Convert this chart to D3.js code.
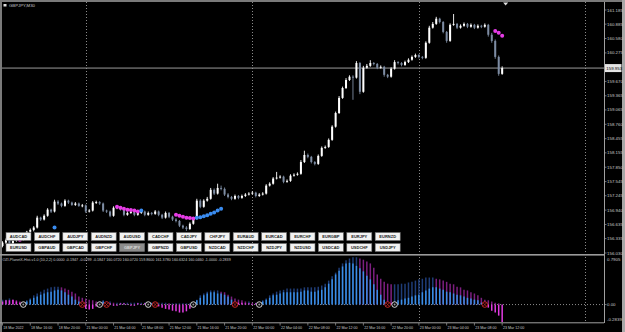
<!DOCTYPE html>
<html>
<head>
<meta charset="utf-8">
<script src="https://cdn.jsdelivr.net/npm/d3@7"></script>
<style>
html, body { margin: 0; padding: 0; background: #000; }
svg { display: block; }
text { font-family: "Liberation Sans", Arial, sans-serif; }
</style>
</head>
<body>
<svg id="chart" width="625" height="332"></svg>
<script>
// --- data ---
const symbolTitle = "GBPJPY,M30";

// M30 bars, [open, high, low, close], 18 Mar 12:00 .. 23 Mar 12:00
const candles = [
  [156.18,156.28,156.15,156.25],[156.25,156.34,156.22,156.31],[156.31,156.33,156.20,156.23],[156.23,156.31,156.21,156.29],
  [156.29,156.38,156.27,156.35],[156.35,156.37,156.29,156.31],[156.31,156.43,156.29,156.40],[156.40,156.50,156.38,156.48],
  [156.48,156.55,156.46,156.52],[156.52,156.60,156.49,156.57],[156.57,156.82,156.55,156.78],[156.78,156.80,156.71,156.74],
  [156.74,156.85,156.72,156.82],[156.82,156.98,156.80,156.95],[156.95,156.97,156.88,156.91],[156.91,157.16,156.89,157.12],
  [157.12,157.15,157.05,157.08],[157.08,157.10,157.00,157.03],[157.03,157.17,157.01,157.14],[157.14,157.16,157.07,157.10],
  [157.10,157.12,157.03,157.05],[157.05,157.11,157.03,157.08],[157.08,157.10,157.01,157.03],[157.03,157.07,157.00,157.04],
  [157.04,157.06,156.88,156.91],[156.91,156.96,156.89,156.93],[156.93,157.13,156.91,157.10],[157.10,157.14,157.07,157.11],
  [157.11,157.13,157.05,157.08],[157.08,157.10,156.90,156.93],[156.93,156.95,156.88,156.91],[156.91,156.93,156.79,156.82],
  [156.82,157.02,156.80,156.99],[156.99,157.03,156.96,157.00],[157.00,157.02,156.93,156.95],[156.95,156.97,156.81,156.84],
  [156.84,156.91,156.82,156.88],[156.88,156.94,156.86,156.91],[156.91,156.93,156.81,156.84],[156.84,156.91,156.82,156.88],
  [156.88,156.94,156.86,156.91],[156.91,156.93,156.81,156.84],[156.84,156.91,156.82,156.88],[156.88,156.90,156.83,156.86],
  [156.86,156.94,156.84,156.91],[156.91,156.93,156.81,156.84],[156.84,156.86,156.75,156.78],[156.78,156.91,156.76,156.88],
  [156.88,156.90,156.77,156.80],[156.80,156.82,156.71,156.74],[156.74,156.77,156.68,156.71],[156.71,156.73,156.58,156.61],
  [156.61,156.63,156.54,156.57],[156.57,156.60,156.50,156.54],[156.54,156.68,156.52,156.65],[156.65,156.79,156.63,156.76],
  [156.76,157.18,156.74,157.14],[157.14,157.17,156.98,157.01],[157.01,157.17,156.99,157.14],[157.14,157.22,157.12,157.18],
  [157.18,157.41,157.16,157.37],[157.37,157.40,157.26,157.29],[157.29,157.50,157.27,157.41],[157.41,157.46,157.36,157.39],
  [157.39,157.42,157.24,157.27],[157.27,157.30,157.19,157.22],[157.22,157.24,157.15,157.18],[157.18,157.27,157.16,157.24],
  [157.24,157.26,157.17,157.20],[157.20,157.27,157.18,157.24],[157.24,157.30,157.22,157.27],[157.27,157.32,157.25,157.29],
  [157.29,157.34,157.27,157.31],[157.31,157.33,157.21,157.24],[157.24,157.30,157.22,157.27],[157.27,157.32,157.25,157.29],
  [157.29,157.49,157.27,157.46],[157.46,157.53,157.44,157.50],[157.50,157.64,157.48,157.61],[157.61,157.75,157.59,157.63],
  [157.63,157.68,157.61,157.65],[157.65,157.67,157.51,157.54],[157.54,157.59,157.52,157.56],[157.56,157.70,157.54,157.67],
  [157.67,157.72,157.65,157.69],[157.69,157.74,157.67,157.71],[157.71,158.00,157.69,157.96],[157.96,158.20,157.94,158.11],
  [158.11,158.14,158.04,158.07],[158.07,158.09,157.93,157.96],[157.96,157.98,157.89,157.92],[157.92,158.12,157.90,158.09],
  [158.09,158.29,158.07,158.26],[158.26,158.31,158.24,158.28],[158.28,158.46,158.26,158.43],[158.43,158.74,158.41,158.71],
  [158.71,159.03,158.69,159.00],[159.00,159.36,158.98,159.32],[159.32,159.56,159.30,159.53],[159.53,159.74,159.51,159.70],
  [159.70,159.80,159.68,159.77],[159.77,159.80,159.28,159.75],[159.75,160.10,159.73,160.06],[160.06,160.08,159.40,159.45],
  [159.45,160.00,159.43,159.96],[159.96,160.04,159.94,160.00],[160.00,160.12,159.98,160.06],[160.06,160.08,160.01,160.04],
  [160.04,160.06,159.93,159.96],[159.96,160.01,159.94,159.98],[159.98,160.00,159.77,159.81],[159.81,159.83,159.74,159.77],
  [159.77,159.97,159.75,159.94],[159.94,160.12,159.92,160.08],[160.08,160.10,160.03,160.06],[160.06,160.08,159.99,160.02],
  [160.02,160.11,160.00,160.08],[160.08,160.16,160.06,160.13],[160.13,160.22,160.11,160.19],[160.19,160.26,160.17,160.23],
  [160.23,160.25,160.16,160.19],[160.19,160.21,160.14,160.17],[160.17,160.52,160.15,160.49],[160.49,160.85,160.47,160.81],
  [160.81,160.93,160.79,160.89],[160.89,161.04,160.87,161.00],[161.00,161.02,160.90,160.93],[160.93,160.95,160.69,160.72],
  [160.72,160.74,160.49,160.53],[160.53,160.90,160.51,160.87],[160.87,161.10,160.85,160.89],[160.89,160.91,160.78,160.81],
  [160.81,160.88,160.79,160.85],[160.85,160.92,160.83,160.89],[160.89,160.91,160.80,160.83],[160.83,160.90,160.81,160.87],
  [160.87,160.89,160.78,160.81],[160.81,160.88,160.79,160.85],[160.85,160.87,160.80,160.83],[160.83,160.90,160.81,160.87],
  [160.87,160.89,160.62,160.66],[160.66,160.70,160.49,160.53],[160.53,160.56,160.15,160.19],[160.19,160.22,159.79,159.83],
  [159.83,159.99,159.81,159.953]
];

const timeLabels = [
  "18 Mar 2022","18 Mar 16:00","18 Mar 20:00","21 Mar 00:00","21 Mar 04:00","21 Mar 08:00","21 Mar 12:00",
  "21 Mar 16:00","21 Mar 20:00","22 Mar 00:00","22 Mar 04:00","22 Mar 08:00","22 Mar 12:00","22 Mar 16:00",
  "22 Mar 20:00","23 Mar 00:00","23 Mar 04:00","23 Mar 08:00","23 Mar 12:00"
];
const barsPerLabel = 8;
const dayStartBars = [24, 72, 120, 168];

const priceTicks = [161.185,160.885,160.580,160.275,159.670,159.365,159.065,158.760,158.455,
                    158.155,157.850,157.545,157.245,156.940,156.635,156.335,156.030];

// trend dots on the price chart, [bar, price]
const trendDotsDown = [[5,156.31],[33,157.01],[34,156.99],[35,156.97],[36,156.95],[37,156.94],[38,156.93],[39,156.91],
  [50,156.84],[51,156.82],[52,156.80],[53,156.78],[54,156.77],[55,156.76],[142,160.74],[143,160.70],[144,160.64]];
const trendDotsUp = [[15,156.57],[40,156.93],[56,156.78],[57,156.79],[58,156.81],[59,156.83],[60,156.86],
  [61,156.89],[62,156.93],[63,156.97]];

const pairsRow1 = ["AUDCAD","AUDCHF","AUDJPY","AUDNZD","AUDUSD","CADCHF","CADJPY","CHFJPY","EURAUD","EURCAD","EURCHF","EURGBP","EURJPY","EURNZD"];
const pairsRow2 = ["EURUSD","GBPAUD","GBPCAD","GBPCHF","GBPJPY","GBPNZD","GBPUSD","NZDCAD","NZDCHF","NZDJPY","NZDUSD","USDCAD","USDCHF","USDJPY"];
const activePair = "GBPJPY";

// oscillator sub-window
const oscHeader = "OZI-PlanetX-Hist-v1.0 (10,2,2) 0.0000 -0.1947 -0.0299 -0.1847 160.0720 160.0720 159.8600 161.3780 160.6324 160.0460 -1.0000 -0.2839";
const oscMax = 0.7905, oscMin = -0.2839;
const oscFast = [
  0.05,0.07,0.07,0.08,0.05,0.03,
  0.02,0.05,0.08,0.11,0.13,0.16,0.18,0.20,0.21,0.23,0.24,0.23,0.20,0.16,0.13,0.08,0.05,
  -0.03,-0.07,-0.08,-0.07,-0.03,
  0.03,0.05,
  0.02,0.02,-0.02,-0.02,0.02,0.02,0.01,-0.02,-0.02,0.02,0.01,0.02,
  0.02,0.02,
  -0.02,-0.03,-0.05,-0.07,-0.08,-0.10,-0.11,-0.13,-0.13,-0.11,-0.07,
  0.02,0.07,0.11,0.15,0.18,0.20,0.20,0.18,0.18,0.16,0.13,0.08,
  0.02,0.03,0.03,0.02,0.02,0.01,0.02,
  0.02,0.05,0.08,0.11,0.15,0.16,0.18,0.20,0.20,0.20,0.20,0.20,0.21,0.23,0.23,0.21,0.21,0.23,0.24,0.28,
  0.34,0.41,0.49,0.55,0.62,0.67,0.68,0.67,0.63,0.59,0.54,0.47,0.41,0.33,0.24,0.16,0.08,
  0.03,0.02,
  0.03,0.07,0.08,0.10,0.11,0.13,0.15,0.16,0.20,0.23,0.26,0.28,0.28,0.26,0.24,0.21,0.20,0.18,0.16,0.15,
  0.13,0.11,0.10,0.08,0.07,0.03,
  -0.02,-0.05,-0.10,-0.13,-0.18,-0.2839
];
const oscSlow = [
  0.08,0.08,0.10,0.08,0.07,0.05,
  0.03,0.07,0.10,0.15,0.18,0.21,0.24,0.26,0.28,0.29,0.29,0.28,0.26,0.24,0.21,0.18,0.13,
  0.11,0.10,0.08,0.07,0.05,
  0.05,0.07,
  0.05,0.05,0.03,0.03,0.03,0.03,0.03,0.03,0.03,0.03,0.03,0.03,
  0.03,0.03,
  0.03,0.03,0.03,0.03,0.02,0.02,0.02,0.02,0.02,0.02,0.02,
  0.03,0.08,0.15,0.18,0.21,0.23,0.23,0.23,0.21,0.20,0.16,0.13,
  0.10,0.08,0.07,0.05,0.05,0.03,0.03,
  0.03,0.07,0.10,0.15,0.18,0.21,0.23,0.24,0.26,0.26,0.26,0.26,0.26,0.28,0.28,0.28,0.28,0.29,0.31,0.34,
  0.39,0.46,0.52,0.60,0.67,0.72,0.75,0.77,0.77,0.75,0.73,0.70,0.67,0.60,0.49,0.42,0.37,
  0.34,0.33,
  0.33,0.33,0.34,0.34,0.36,0.37,0.39,0.41,0.42,0.44,0.44,0.44,0.42,0.41,0.39,0.37,0.34,0.33,0.29,0.28,
  0.24,0.23,0.20,0.18,0.15,0.11,
  0.08,0.07,0.05,0.03,0.02,0.00
];
const crossUpBars = [6, 28, 42, 55, 74, 113];
const crossDownBars = [23, 30, 44, 67, 111, 139];

// --- layout ---
const W = 625, H = 332;
const plotL = 2, plotR = 604;
const mainTop = 2, mainBottom = 254, oscTop = 256, oscBottom = 322;
const axisColor = "#a0a0a0", textColor = "#c8c8c8", gridColor = "#8a8a8a";
const bullColor = "#ffffff", bearColor = "#7d8ca3";

const svg = d3.select("#chart");
svg.append("rect").attr("width", W).attr("height", H).attr("fill", "#000");

const x = d3.scaleLinear().domain([0, 173]).range([2.5, 602.8]);
const y = d3.scaleLinear().domain([156.030, 161.185]).range([253, 10]);
const yOsc = d3.scaleLinear().domain([oscMin, oscMax]).range([oscBottom, oscTop]);

const defs = svg.append("defs");
defs.append("clipPath").attr("id", "clip-main").append("rect")
  .attr("x", plotL).attr("y", mainTop).attr("width", plotR - plotL).attr("height", mainBottom - mainTop);
defs.append("clipPath").attr("id", "clip-osc").append("rect")
  .attr("x", plotL).attr("y", oscTop).attr("width", plotR - plotL).attr("height", oscBottom - oscTop);

// day separators, through both windows
svg.append("g").selectAll("line").data(dayStartBars).join("line")
  .attr("x1", d => Math.round(x(d)) + 0.5).attr("x2", d => Math.round(x(d)) + 0.5)
  .attr("y1", mainTop).attr("y2", oscBottom)
  .attr("stroke", gridColor).attr("stroke-width", 1).attr("stroke-dasharray", "1,2");

// ---- main window ----
const main = svg.append("g").attr("clip-path", "url(#clip-main)");
const lastClose = candles[candles.length - 1][3];

main.append("line")
  .attr("x1", plotL).attr("x2", plotR)
  .attr("y1", y(lastClose)).attr("y2", y(lastClose))
  .attr("stroke", "#9a9a9a").attr("stroke-width", 1);

const bars = main.append("g").selectAll("g").data(candles).join("g")
  .attr("fill", d => d[3] >= d[0] ? bullColor : bearColor)
  .attr("stroke", d => d[3] >= d[0] ? bullColor : bearColor);
bars.append("line")
  .attr("x1", (d, i) => x(i)).attr("x2", (d, i) => x(i))
  .attr("y1", d => y(d[1])).attr("y2", d => y(d[2]))
  .attr("stroke-width", 0.9);
bars.append("rect")
  .attr("stroke", "none")
  .attr("x", (d, i) => x(i) - 1)
  .attr("width", 2)
  .attr("y", d => y(Math.max(d[0], d[3])))
  .attr("height", d => Math.max(0.9, Math.abs(y(d[0]) - y(d[3]))));

main.append("g").selectAll("circle").data(trendDotsDown).join("circle")
  .attr("cx", d => x(d[0])).attr("cy", d => y(d[1])).attr("r", 2)
  .attr("fill", "#e63ce6");
main.append("g").selectAll("circle").data(trendDotsUp).join("circle")
  .attr("cx", d => x(d[0])).attr("cy", d => y(d[1])).attr("r", 2)
  .attr("fill", "#3a8cf0");

// symbol buttons
function drawButtons(names, top) {
  const b = svg.append("g").selectAll("g").data(names).join("g")
    .attr("transform", (d, k) => `translate(${6 + k * 28.4},${top})`);
  b.append("rect")
    .attr("width", 25).attr("height", 8)
    .attr("fill", d => d === activePair ? "#8c8c8c" : "#f2f2f2")
    .attr("stroke", "#6a6a6a").attr("stroke-width", 0.6);
  b.append("text")
    .attr("x", 12.5).attr("y", 5.6)
    .attr("text-anchor", "middle")
    .attr("font-size", 4).attr("font-weight", "bold")
    .attr("fill", d => d === activePair ? "#d8d8d8" : "#202020")
    .text(d => d);
}
drawButtons(pairsRow1, 232.5);
drawButtons(pairsRow2, 243.5);

// title
svg.append("rect").attr("x", 3.5).attr("y", 4).attr("width", 3).attr("height", 2.5).attr("fill", "#e0e0e0");
svg.append("text").attr("x", 9).attr("y", 6.8).attr("font-size", 4.3).attr("fill", textColor).text(symbolTitle);

// chart shift marker
const shiftX = x(candles.length);
svg.append("path")
  .attr("d", `M${shiftX - 2.5},2.5 L${shiftX + 2.5},2.5 L${shiftX},5.5 Z`)
  .attr("fill", "#e0e0e0");

// ---- oscillator window ----
const osc = svg.append("g").attr("clip-path", "url(#clip-osc)");
osc.append("line")
  .attr("x1", plotL).attr("x2", plotR)
  .attr("y1", yOsc(0)).attr("y2", yOsc(0))
  .attr("stroke", gridColor).attr("stroke-dasharray", "1,2");

// bull / bear state from the crossing markers
const crosses = crossUpBars.map(b => [b, 1]).concat(crossDownBars.map(b => [b, -1])).sort((a, b) => a[0] - b[0]);
function stateAt(i) {
  let s = -1;
  for (const c of crosses) { if (c[0] <= i) s = c[1]; }
  return s;
}

osc.append("g").selectAll("line").data(oscSlow).join("line")
  .attr("x1", (d, i) => x(i)).attr("x2", (d, i) => x(i))
  .attr("y1", yOsc(0)).attr("y2", d => yOsc(d))
  .attr("stroke", (d, i) => i > 0 && d < oscSlow[i - 1] ? "#7d1f80" : "#1f3d78")
  .attr("stroke-width", 1.5);
osc.append("g").selectAll("line").data(oscFast).join("line")
  .attr("x1", (d, i) => x(i)).attr("x2", (d, i) => x(i))
  .attr("y1", yOsc(0)).attr("y2", d => yOsc(d))
  .attr("stroke", (d, i) => stateAt(i) > 0 ? "#3a8ee6" : "#e23be2")
  .attr("stroke-width", 1.5);

const upMarks = osc.append("g").selectAll("g").data(crossUpBars).join("g")
  .attr("transform", d => `translate(${x(d)},${yOsc(0)})`);
upMarks.append("circle").attr("r", 2.8).attr("fill", "#000").attr("stroke", "#e8e8e8").attr("stroke-width", 0.9);
upMarks.append("circle").attr("r", 1).attr("fill", "#9a9a9a");

const downMarks = osc.append("g").selectAll("g").data(crossDownBars).join("g")
  .attr("transform", d => `translate(${x(d)},${yOsc(0)})`);
downMarks.append("circle").attr("r", 2.8).attr("fill", "#000").attr("stroke", "#d42a2a").attr("stroke-width", 0.9);
downMarks.append("path").attr("d", "M-1.6,-1.6L1.6,1.6M-1.6,1.6L1.6,-1.6").attr("stroke", "#d42a2a").attr("stroke-width", 0.7);

svg.append("text").attr("x", 2.5).attr("y", 261).attr("font-size", 3.7).attr("fill", textColor).text(oscHeader);

// ---- frame and axes ----
svg.append("rect").attr("x", 0).attr("y", 0).attr("width", W).attr("height", 2).attr("fill", "#7a7a7a");
svg.append("rect").attr("x", 0).attr("y", 0).attr("width", 2).attr("height", H).attr("fill", "#7a7a7a");
svg.append("rect").attr("x", 622).attr("y", 0).attr("width", 3).attr("height", H).attr("fill", "#a8a8a8");
svg.append("rect").attr("x", 0).attr("y", mainBottom).attr("width", plotR).attr("height", 1.6).attr("fill", "#9a9a9a");
svg.append("line").attr("x1", 0).attr("x2", plotR).attr("y1", 322.8).attr("y2", 322.8).attr("stroke", axisColor);
svg.append("line").attr("x1", plotR + 0.5).attr("x2", plotR + 0.5).attr("y1", 2).attr("y2", 323).attr("stroke", axisColor);

// price axis
const pAxis = svg.append("g");
pAxis.selectAll("line").data(priceTicks).join("line")
  .attr("x1", plotR).attr("x2", plotR + 2.5)
  .attr("y1", d => y(d)).attr("y2", d => y(d))
  .attr("stroke", axisColor).attr("stroke-width", 0.7);
pAxis.selectAll("text").data(priceTicks).join("text")
  .attr("x", 607).attr("y", d => y(d) + 1.5)
  .attr("font-size", 4.4).attr("fill", textColor)
  .text(d => d.toFixed(3));

svg.append("rect").attr("x", 605).attr("y", y(lastClose) - 4).attr("width", 16.5).attr("height", 8)
  .attr("fill", "#e4e4e4");
svg.append("text").attr("x", 606.3).attr("y", y(lastClose) + 1.6)
  .attr("font-size", 4.4).attr("fill", "#000").text(lastClose.toFixed(3));

// oscillator axis
const oscLabels = [[oscMax, oscMax.toFixed(4), 4.5], [0, "0.00", 1.5], [oscMin, oscMin.toFixed(4), -1.2]];
svg.append("g").selectAll("text").data(oscLabels).join("text")
  .attr("x", 607).attr("y", d => yOsc(d[0]) + d[2])
  .attr("font-size", 4.4).attr("fill", textColor)
  .text(d => d[1]);
svg.append("line").attr("x1", plotR).attr("x2", plotR + 2.5).attr("y1", yOsc(0)).attr("y2", yOsc(0))
  .attr("stroke", axisColor).attr("stroke-width", 0.7);

// time axis
const tAxis = svg.append("g").selectAll("g").data(timeLabels).join("g")
  .attr("transform", (d, k) => `translate(${x(k * barsPerLabel)},0)`);
tAxis.append("line").attr("x1", 0).attr("x2", 0).attr("y1", 323).attr("y2", 325.5)
  .attr("stroke", axisColor).attr("stroke-width", 0.7);
tAxis.append("text").attr("x", 0.8).attr("y", 328.6)
  .attr("font-size", 3.6).attr("fill", textColor)
  .text(d => d);
</script>
</body>
</html>
